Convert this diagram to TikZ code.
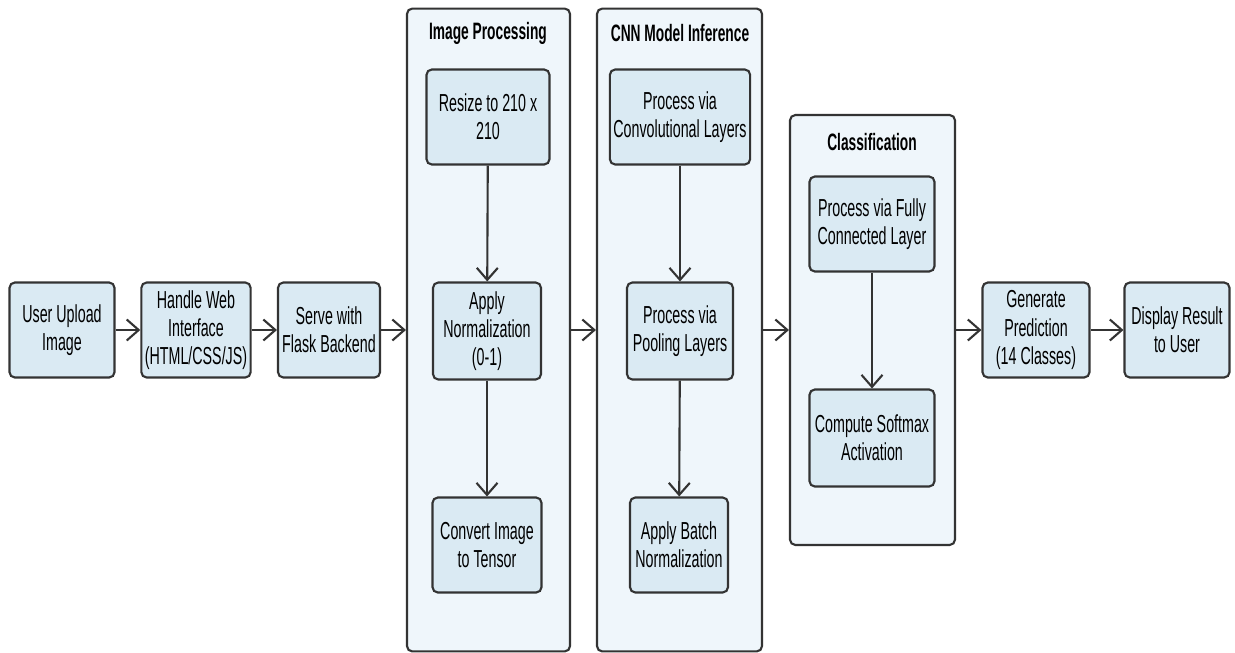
\documentclass[tikz,border=0pt]{standalone}
\usepackage{fontspec}
\setmainfont{Liberation Sans}[FakeStretch=0.58]
\usetikzlibrary{arrows.meta}

\definecolor{boxfill}{HTML}{DAEAF3}
\definecolor{groupfill}{HTML}{EFF6FB}
\definecolor{edge}{HTML}{333333}

\tikzset{
  proc/.style={draw=edge, line width=1.2pt, fill=boxfill, rounded corners=3pt, align=center,
    minimum height=1.9cm, inner sep=2pt, font=\fontsize{14}{16}\selectfont},
  group/.style={draw=edge, line width=1.2pt, fill=groupfill, rounded corners=3pt},
  grouptitle/.style={font=\bfseries\fontsize{13.5}{15}\selectfont},
  flow/.style={line width=1.2pt, draw=edge, -{Straight Barb[length=2.4mm, width=4.2mm]}},
}

\begin{document}
\begin{tikzpicture}[x=0.02cm, y=-0.02cm]
 \useasboundingbox (0,0) rectangle (1235,653);

 % groups
 \node[group, minimum width=3.26cm, minimum height=12.86cm] (ipbox) at (488.5,330) {};
 \node[group, minimum width=3.3cm, minimum height=12.86cm] (cnnbox) at (679.5,330) {};
 \node[group, minimum width=3.3cm, minimum height=8.6cm] (clsbox) at (872.5,330) {};
 \node[grouptitle] (iptitle) at (488,33) {Image Processing};
 \node[grouptitle] (cnntitle) at (680,33) {CNN Model Inference};
 \node[grouptitle] (clstitle) at (872,142) {Classification};

 % main line
 \node[proc, minimum width=2.1cm] (user) at (62,330) {User Upload\\Image};
 \node[proc, minimum width=2.16cm] (web) at (196,330) {Handle Web\\Interface\\(HTML/CSS/JS)};
 \node[proc, minimum width=2.04cm] (flask) at (329,330) {Serve with\\Flask Backend};
 \node[proc, minimum width=2.14cm] (pred) at (1036,330) {Generate\\Prediction\\(14 Classes)};
 \node[proc, minimum width=2.1cm] (show) at (1177,330) {Display Result\\to User};

 % inside the groups
 \node[proc, minimum width=2.46cm] (resize) at (488,117) {Resize to 210 x\\210};
 \node[proc, minimum width=2.16cm, minimum height=1.94cm] (norm) at (487,331) {Apply\\Normalization\\(0-1)};
 \node[proc, minimum width=2.18cm] (tensor) at (487,545) {Convert Image\\to Tensor};

 \node[proc, minimum width=2.74cm] (conv) at (680,117) {Process via\\Convolutional Layers};
 \node[proc, minimum width=2.12cm, minimum height=1.94cm] (pool) at (680,331) {Process via\\Pooling Layers};
 \node[proc, minimum width=1.96cm] (batch) at (679,545) {Apply Batch\\Normalization};

 \node[proc, minimum width=2.5cm] (fc) at (872,224) {Process via Fully\\Connected Layer};
 \node[proc, minimum width=2.5cm, minimum height=1.94cm] (soft) at (872,438) {Compute Softmax\\Activation};

 \draw[flow] (user) -- (web);
 \draw[flow] (web) -- (flask);
 \draw[flow] (flask) -- (ipbox);
 \draw[flow] (ipbox) -- (cnnbox);
 \draw[flow] (cnnbox) -- (clsbox);
 \draw[flow] (clsbox) -- (pred);
 \draw[flow] (pred) -- (show);

 \draw[flow] (resize) -- (norm);
 \draw[flow] (norm) -- (tensor);
 \draw[flow] (conv) -- (pool);
 \draw[flow] (pool) -- (batch);
 \draw[flow] (fc) -- (soft);
\end{tikzpicture}
\end{document}
